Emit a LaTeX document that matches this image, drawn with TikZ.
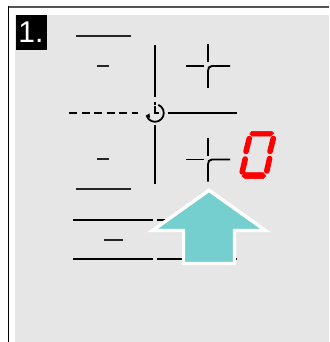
\documentclass[tikz,border=0pt]{standalone}
\usepackage{fontspec}
\setmainfont{Liberation Sans}
\definecolor{panelgray}{HTML}{E6E6E6}
\definecolor{arrowteal}{HTML}{76CFCF}
\definecolor{framedark}{HTML}{555555}
\definecolor{segred}{HTML}{FF0000}
\tikzset{
  px/.style={x=1pt,y=-1pt},
  mark line/.style={draw=black,line width=1.9pt},
  thin line/.style={draw=black!85,line width=1.6pt},
  seg/.style={draw=segred,line width=5.6pt,line cap=round},
  segfill/.style={fill=segred,draw=segred,line width=0.5pt},
  bigarrow/.style={fill=arrowteal,draw=white,line width=3.4pt,miter limit=10,line join=miter},
}
\newcommand{\plusmark}[2]{%
  \draw[mark line] (#1,#2-22) -- (#1,#2-4);
  \draw[mark line] (#1-22,#2) -- (#1-4,#2);
  \draw[mark line] (#1,#2+22) -- (#1,#2+5) .. controls (#1,#2+2) and (#1+1,#2) .. (#1+4,#2) -- (#1+22,#2);
}
\begin{document}
\begin{tikzpicture}[px]
\useasboundingbox (0,0) rectangle (329,342);
\fill[white] (0,0) rectangle (329,342);
\fill[panelgray] (15,15) rectangle (329,342);
\draw[draw=framedark,line width=2pt] (329,7.5) -- (8.3,7.5);
\draw[draw=black,line width=1.5pt] (8.3,6.5) -- (8.3,342);
\fill[black] (16,15) rectangle (47,50);
\node[text=white,font=\fontsize{30pt}{30pt}\selectfont,inner sep=0pt] (num) at (31,32) {1.};
% marks
\draw[thin line] (76,36) -- (131,36);
\draw[thin line] (97,66) -- (109,66);
\draw[thin line] (97,159) -- (109,159);
\draw[thin line] (76,189) -- (131,189);
\draw[mark line] (155,45) -- (155,97);
\draw[mark line] (155,125) -- (155,184);
\draw[mark line,dash pattern=on 8.3pt off 4.2pt] (69,113) -- (138,113);
\draw[mark line] (168,113) -- (237,113);
% clock
\draw[draw=black,line width=1.8pt] (155,113) ++(-68:8.8) arc[start angle=-68,end angle=160,radius=8.8];
\fill[black] (145.6,115.8) -- (149.5,113.4) -- (150,118) -- cycle;
\draw[draw=black,line width=1.2pt,dash pattern=on 3pt off 1pt] (155,102) -- (155,113);
\draw[draw=black,line width=1.2pt] (155,108) -- (155,113) -- (159,113);
\plusmark{208}{66}
\plusmark{208}{159.5}
% digit
\fill[segfill] (251.7,131.3) -- (271.7,131.3) -- (273.7,133.3) -- (270.7,136) -- (252,136) -- (249.7,134) -- cycle;
\draw[seg] (273.3,138.5) -- (270,151.5);
\draw[seg] (249.3,138.5) -- (246,151.5);
\draw[seg] (269.6,158.5) -- (266.8,171);
\draw[seg] (245.2,159) -- (242.2,172);
\fill[segfill] (245,172.7) -- (263.3,172.7) -- (265.7,176) -- (263.3,178.5) -- (245,178.5) -- (242,176) -- cycle;
% lower lines
\draw[mark line] (73,220) -- (153,220);
\draw[mark line] (157,220) -- (237,220);
\draw[thin line] (104,240) -- (123,240);
\draw[mark line] (73,259) -- (153,259);
\draw[mark line] (157,259) -- (237,259);
% arrow
\draw[bigarrow] (209,190.3) -- (265.5,230.5) -- (234.5,230.5) -- (234.5,263.5) -- (183.5,263.5) -- (183.5,230.5) -- (152.5,230.5) -- cycle;
\end{tikzpicture}
\end{document}
